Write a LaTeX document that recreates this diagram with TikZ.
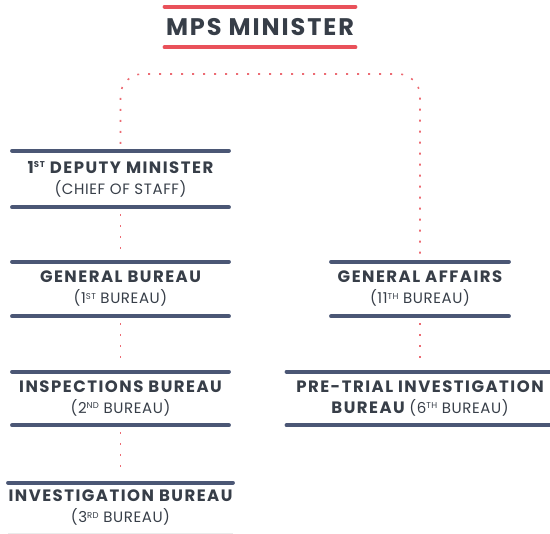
\documentclass[tikz,border=0pt]{standalone}
\usepackage{fontspec}
\setmainfont{Poppins}
\usetikzlibrary{positioning}
\definecolor{slate}{HTML}{4B5775}
\definecolor{ink}{HTML}{373E48}
\definecolor{alert}{HTML}{E9515A}
\newcommand{\sups}[1]{\raisebox{0.6ex}{\fontsize{8.5}{9}\selectfont #1}}
\newcommand{\head}[1]{{\fontsize{16.5}{21}\selectfont\bfseries\addfontfeature{LetterSpace=9}#1}}
\tikzset{
  unit/.style={minimum height=54pt, inner sep=0pt, align=center, text=ink,
    font=\fontsize{15}{21}\selectfont\addfontfeature{LetterSpace=4}},
  bar/.style={draw=slate, line width=4.5pt, line cap=round},
  redbar/.style={draw=alert, line width=4.5pt, line cap=round},
  link/.style={draw=alert!85, line width=1.6pt, dash pattern=on 2pt off 9pt,
    shorten <=7pt, shorten >=7pt},
}
\begin{document}
\begin{tikzpicture}[x=1pt,y=-1pt]
  \useasboundingbox (0,0) rectangle (550,534);
  % top
  \node[unit, minimum width=190pt, minimum height=40pt,
    font=\fontsize{24}{26}\selectfont\bfseries\addfontfeature{LetterSpace=8}] (mps) at (260,27) {MPS MINISTER};
  \draw[redbar] (mps.north west) -- (mps.north east);
  \draw[redbar] (mps.south west) -- (mps.south east);
  % left column
  \node[unit, minimum width=216pt, minimum height=56pt] (dep) at (120.5,179) {\head{1\sups{ST} DEPUTY MINISTER}\\(CHIEF OF STAFF)};
  \node[unit, minimum width=216pt] (gb) at (120.5,289) {\head{GENERAL BUREAU}\\(1\sups{ST} BUREAU)};
  \node[unit, minimum width=216pt, minimum height=53pt] (ins) at (120.5,398.5) {\head{INSPECTIONS BUREAU}\\(2\sups{ND} BUREAU)};
  \node[unit, minimum width=216pt, minimum height=50pt] (inv) at (120.5,508) {\head{INVESTIGATION BUREAU}\\(3\sups{RD} BUREAU)};
  % right column
  \node[unit, minimum width=177pt] (ga) at (420,289) {\head{GENERAL AFFAIRS}\\(11\sups{TH} BUREAU)};
  \node[unit, minimum width=266pt, minimum height=53pt] (pt) at (420,398.5) {\head{PRE-TRIAL INVESTIGATION}\\\head{BUREAU} (6\sups{TH} BUREAU)};
  \foreach \n in {dep,gb,ins,ga,pt}{
    \draw[bar] (\n.north west) -- (\n.north east);
    \draw[bar] (\n.south west) -- (\n.south east);
  }
  \draw[bar] (inv.north west) -- (inv.north east);
  \draw[draw=black!8, line width=0.8pt] (inv.south west) -- (inv.south east);
  % links
  \coordinate (top) at (260,74);
  \draw[link, rounded corners=22pt] (dep.north) -- (dep.north |- top) -- (ga.north |- top) -- (ga.north);
  \draw[link] (dep) -- (gb);
  \draw[link] (gb) -- (ins);
  \draw[link] (ins) -- (inv);
  \draw[link] (ga.south) -- (ga.south |- pt.north);
\end{tikzpicture}
\end{document}
